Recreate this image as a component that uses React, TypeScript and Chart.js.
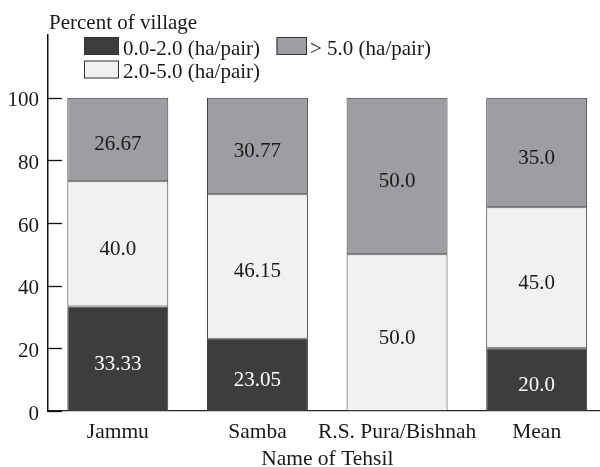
import React, { useEffect, useRef } from 'react';
import { Chart, registerables } from 'chart.js';

Chart.register(...registerables);

// ---- Data ----
const categories = ['Jammu', 'Samba', 'R.S. Pura/Bishnah', 'Mean'];
const seriesLabels = ['0.0-2.0 (ha/pair)', '2.0-5.0 (ha/pair)', '> 5.0 (ha/pair)'];
const lowShare = [33.33, 23.05, 0, 20.0];
const midShare = [40.0, 46.15, 50.0, 45.0];
const highShare = [26.67, 30.77, 50.0, 35.0];
const yTickValues = [0, 20, 40, 60, 80, 100];
const yAxisTitle = 'Percent of village';
const xAxisTitle = 'Name of Tehsil';

// ---- Styles ----
const FONT = '"Liberation Serif", "Times New Roman", serif';
const TEXT = '#1a1a1a';
const COLORS = ['#3d3d3d', '#f1f1f3', '#9e9ea2'];

const fmt = (v: number) => (Number.isInteger(v) ? v.toFixed(1) : String(v));

const overlay = {
  id: 'overlay',
  afterDatasetsDraw(chart: any) {
    const ctx = chart.ctx as CanvasRenderingContext2D;
    const yScale = chart.scales.y;
    const area = chart.chartArea;
    ctx.save();
    // inside tick marks
    ctx.strokeStyle = '#111';
    ctx.lineWidth = 1.3;
    yTickValues.forEach((v) => {
      const py = Math.round(yScale.getPixelForValue(v)) + 0.5;
      ctx.beginPath();
      ctx.moveTo(area.left, py);
      ctx.lineTo(area.left + 14, py);
      ctx.stroke();
    });
    // data labels
    ctx.font = `21px ${FONT}`;
    ctx.textAlign = 'center';
    ctx.textBaseline = 'middle';
    chart.data.datasets.forEach((ds: any, di: number) => {
      const meta = chart.getDatasetMeta(di);
      meta.data.forEach((bar: any, i: number) => {
        const v = ds.data[i];
        if (!v) return;
        const p = bar.getProps(['x', 'y', 'base'], true);
        ctx.fillStyle = di === 0 ? '#ffffff' : TEXT;
        ctx.fillText(fmt(v), p.x, (p.y + p.base) / 2 + 5.5);
      });
    });
    // x axis title
    ctx.font = `21.5px ${FONT}`;
    ctx.textBaseline = 'alphabetic';
    ctx.fillStyle = TEXT;
    ctx.fillText(xAxisTitle, (area.left + area.right) / 2, 465);
    // y axis title (top)
    ctx.font = `21px ${FONT}`;
    ctx.textAlign = 'left';
    ctx.fillText(yAxisTitle, 49, 28.5);
    // legend
    const items = [
      { bx: 84, by: 37, bw: 35, tx: 123, base: 55 },
      { bx: 84, by: 60.5, bw: 35, tx: 123, base: 78 },
      { bx: 276.5, by: 37, bw: 30.5, tx: 310, base: 55 },
    ];
    chart.data.datasets.forEach((ds: any, di: number) => {
      const it = items[di];
      ctx.fillStyle = ds.backgroundColor;
      ctx.fillRect(it.bx, it.by, it.bw, 18);
      ctx.strokeStyle = '#333';
      ctx.lineWidth = 1;
      ctx.strokeRect(it.bx + 0.5, it.by + 0.5, it.bw - 1, 17);
      ctx.fillStyle = TEXT;
      ctx.fillText(ds.label, it.tx, it.base);
    });
    ctx.restore();
  },
};

export default function App() {
  const ref = useRef<HTMLCanvasElement | null>(null);

  useEffect(() => {
    if (!ref.current) return;
    const chart = new Chart(ref.current, {
      type: 'bar',
      data: {
        labels: categories,
        datasets: [lowShare, midShare, highShare].map((d, i) => ({
          label: seriesLabels[i],
          data: d,
          backgroundColor: COLORS[i],
          borderColor: '#3a3a3a',
          borderWidth: 1,
          borderSkipped: false,
          barPercentage: 0.723,
          categoryPercentage: 1,
        })),
      },
      options: {
        responsive: false,
        animation: false,
        devicePixelRatio: 1,
        layout: { padding: { top: 35, right: 13.5, bottom: 0, left: 0 } },
        plugins: {
          legend: { display: false },
          tooltip: { enabled: false },
          title: { display: false },
        },
        scales: {
          x: {
            stacked: true,
            grid: { display: false },
            border: { display: true, color: '#222', width: 1.3 },
            ticks: { color: TEXT, font: { family: FONT, size: 21.5 }, padding: 0, maxRotation: 0, autoSkip: false },
            afterFit: (s: any) => {
              s.height = 56;
            },
          },
          y: {
            stacked: true,
            min: 0,
            max: 120,
            grid: { display: false },
            border: { display: true, color: '#111', width: 1.5 },
            ticks: {
              stepSize: 20,
              color: TEXT,
              font: { family: FONT, size: 21 },
              padding: 1,
              labelOffset: 3,
              callback: (v: any) => (Number(v) <= 100 ? String(v) : ''),
            },
            afterFit: (s: any) => {
              s.width = 48;
            },
          },
        },
      },
      plugins: [overlay],
    });
    return () => chart.destroy();
  }, []);

  return (
    <div
      style={{
        position: 'fixed',
        left: 0,
        top: 0,
        width: 600,
        height: 467,
        overflow: 'hidden',
        background: '#fff',
      }}
    >
      <canvas ref={ref} width={620} height={467} style={{ display: 'block' }} />
    </div>
  );
}
